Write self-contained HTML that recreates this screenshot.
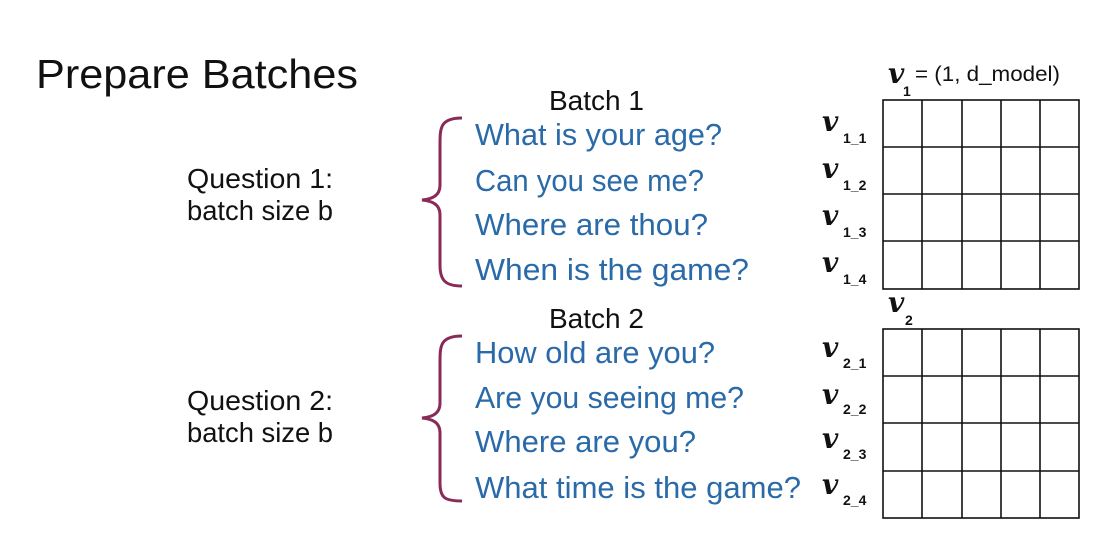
<!DOCTYPE html>
<html><head><meta charset="utf-8"><style>
html,body{margin:0;padding:0;background:#fff;}
svg{display:block;}
text{font-family:"Liberation Sans",sans-serif;}
.b{fill:#2a6aa8;font-size:31px;}
.k{fill:#111;}
.v{font-family:"DejaVu Serif","Liberation Serif",serif;font-style:italic;font-weight:bold;font-size:28px;fill:#111;}
.s{font-size:14px;fill:#111;font-weight:bold;}
</style></head><body>
<svg width="1116" height="546" viewBox="0 0 1116 546" xmlns="http://www.w3.org/2000/svg">
<rect width="1116" height="546" fill="#fff"/>
<text x="36" y="88" font-size="41" class="k" textLength="322" lengthAdjust="spacingAndGlyphs">Prepare Batches</text>
<text x="187" y="188" font-size="28" class="k" textLength="146" lengthAdjust="spacingAndGlyphs">Question 1:</text>
<text x="187" y="220" font-size="28" class="k" textLength="146" lengthAdjust="spacingAndGlyphs">batch size b</text>
<text x="187" y="410" font-size="28" class="k" textLength="146" lengthAdjust="spacingAndGlyphs">Question 2:</text>
<text x="187" y="442" font-size="28" class="k" textLength="146" lengthAdjust="spacingAndGlyphs">batch size b</text>
<text x="549" y="110" font-size="28" class="k" textLength="95" lengthAdjust="spacingAndGlyphs">Batch 1</text>
<text x="549" y="328" font-size="28" class="k" textLength="95" lengthAdjust="spacingAndGlyphs">Batch 2</text>
<g fill="none" stroke="#8a2a58" stroke-width="3">
<path d="M462,118 C440,118 440,128 440,145 L440,185 C440,196 432,199 422,200 C432,201 440,204 440,215 L440,265 C440,280 445,286 462,286"/>
<path d="M462,336 C440,336 440,346 440,363 L440,403 C440,414 432,417 422,418 C432,419 440,422 440,433 L440,483 C440,498 445,501 462,501"/>
</g>
<text x="475" y="145" class="b" textLength="247" lengthAdjust="spacingAndGlyphs">What is your age?</text>
<text x="475" y="191" class="b" textLength="229" lengthAdjust="spacingAndGlyphs">Can you see me?</text>
<text x="475" y="235" class="b" textLength="233" lengthAdjust="spacingAndGlyphs">Where are thou?</text>
<text x="475" y="280" class="b" textLength="274" lengthAdjust="spacingAndGlyphs">When is the game?</text>
<text x="475" y="363" class="b" textLength="240" lengthAdjust="spacingAndGlyphs">How old are you?</text>
<text x="475" y="408" class="b" textLength="269" lengthAdjust="spacingAndGlyphs">Are you seeing me?</text>
<text x="475" y="452" class="b" textLength="221" lengthAdjust="spacingAndGlyphs">Where are you?</text>
<text x="475" y="498" class="b" textLength="326" lengthAdjust="spacingAndGlyphs">What time is the game?</text>
<g stroke="#111" stroke-width="1.6" fill="none">
<rect x="883" y="100" width="196" height="189"/>
<line x1="922" y1="100" x2="922" y2="289"/><line x1="962" y1="100" x2="962" y2="289"/><line x1="1001" y1="100" x2="1001" y2="289"/><line x1="1040" y1="100" x2="1040" y2="289"/>
<line x1="883" y1="147" x2="1079" y2="147"/><line x1="883" y1="194" x2="1079" y2="194"/><line x1="883" y1="241" x2="1079" y2="241"/>
<rect x="883" y="329" width="196" height="189"/>
<line x1="922" y1="329" x2="922" y2="518"/><line x1="962" y1="329" x2="962" y2="518"/><line x1="1001" y1="329" x2="1001" y2="518"/><line x1="1040" y1="329" x2="1040" y2="518"/>
<line x1="883" y1="376" x2="1079" y2="376"/><line x1="883" y1="423" x2="1079" y2="423"/><line x1="883" y1="471" x2="1079" y2="471"/>
</g>
<text x="888" y="83" class="v">v</text><text x="903" y="96" class="s">1</text>
<text x="915" y="81" font-size="21" class="k" textLength="145" lengthAdjust="spacingAndGlyphs">= (1, d_model)</text>
<text x="888" y="312" class="v">v</text><text x="905" y="325" class="s">2</text>
<g>
<text x="822" y="131" class="v">v</text><text x="843" y="143" class="s">1_1</text>
<text x="822" y="178" class="v">v</text><text x="843" y="190" class="s">1_2</text>
<text x="822" y="225" class="v">v</text><text x="843" y="237" class="s">1_3</text>
<text x="822" y="272" class="v">v</text><text x="843" y="284" class="s">1_4</text>
<text x="822" y="357" class="v">v</text><text x="843" y="368" class="s">2_1</text>
<text x="822" y="404" class="v">v</text><text x="843" y="414" class="s">2_2</text>
<text x="822" y="448" class="v">v</text><text x="843" y="459" class="s">2_3</text>
<text x="822" y="494" class="v">v</text><text x="843" y="505" class="s">2_4</text>
</g>
</svg>
</body></html>
